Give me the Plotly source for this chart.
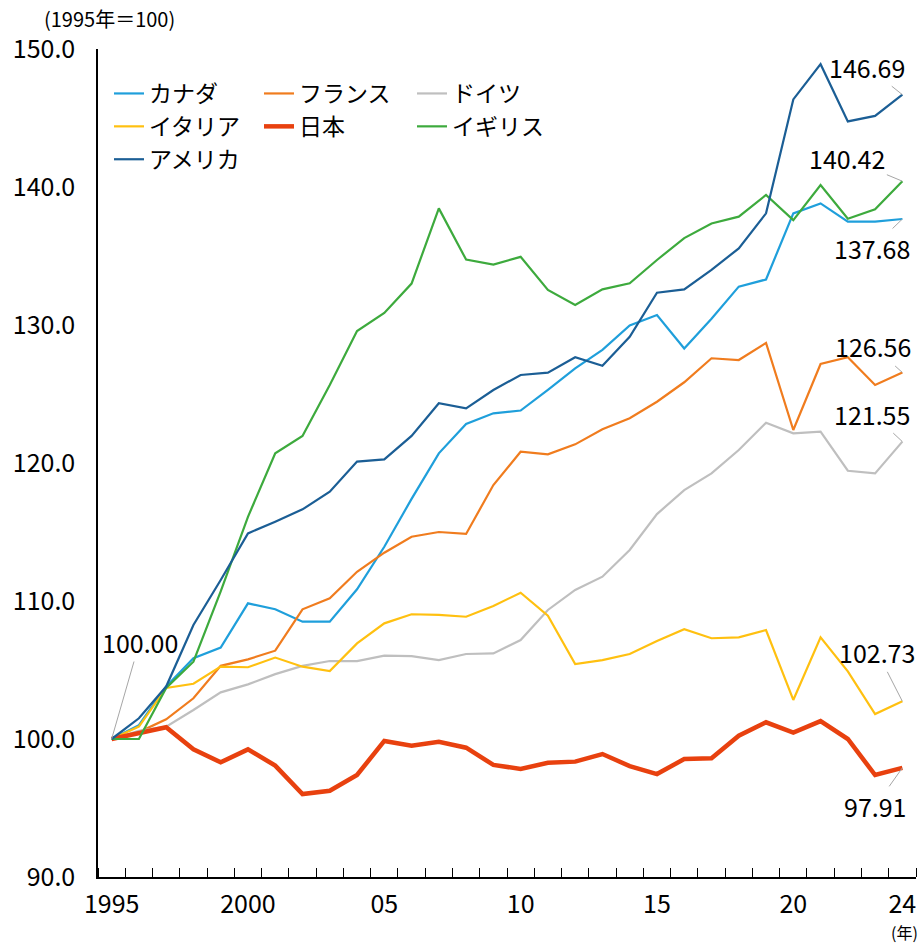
import plotly.graph_objects as go

years = list(range(1995, 2025))

canada = [100.0, 101.0, 103.8, 105.85, 106.62, 109.83, 109.4, 108.5, 108.5, 110.85,
          113.93, 117.4, 120.7, 122.83, 123.6, 123.8, 125.3, 126.86, 128.2, 129.96,
          130.72, 128.3, 130.45, 132.78, 133.3, 138.09, 138.81, 137.49, 137.49, 137.68]
france = [100.0, 100.5, 101.43, 102.95, 105.3, 105.77, 106.4, 109.4, 110.19, 112.12,
          113.5, 114.66, 115.0, 114.86, 118.4, 120.82, 120.63, 121.35, 122.44, 123.24,
          124.44, 125.85, 127.59, 127.46, 128.7, 122.39, 127.17, 127.66, 125.65, 126.56]
germany = [100.0, 100.6, 100.9, 102.1, 103.38, 103.96, 104.7, 105.3, 105.65, 105.65,
           106.04, 106.0, 105.72, 106.16, 106.2, 107.17, 109.35, 110.8, 111.76, 113.7,
           116.3, 118.04, 119.25, 120.94, 122.92, 122.15, 122.27, 119.44, 119.25, 121.55]
italy = [100.0, 100.9, 103.7, 104.0, 105.24, 105.2, 105.9, 105.24, 104.93, 106.93,
         108.38, 109.04, 108.99, 108.86, 109.64, 110.6, 108.93, 105.43, 105.72, 106.16,
         107.1, 107.95, 107.3, 107.37, 107.9, 102.83, 107.37, 104.9, 101.81, 102.73]
japan = [100.0, 100.4, 100.85, 99.25, 98.31, 99.25, 98.07, 96.01, 96.25, 97.39,
         99.86, 99.51, 99.8, 99.37, 98.12, 97.83, 98.28, 98.36, 98.91, 98.04,
         97.46, 98.55, 98.6, 100.24, 101.21, 100.46, 101.3, 100.0, 97.39, 97.91]
uk = [100.0, 100.0, 103.7, 105.6, 110.7, 116.1, 120.7, 121.96, 125.65, 129.56,
      130.87, 133.0, 138.45, 134.74, 134.38, 134.94, 132.54, 131.45, 132.58, 133.02,
      134.71, 136.3, 137.36, 137.85, 139.42, 137.6, 140.14, 137.7, 138.38, 140.42]
usa = [100.0, 101.5, 103.8, 108.26, 111.52, 114.9, 115.75, 116.64, 117.92, 120.1,
       120.26, 121.96, 124.33, 123.96, 125.29, 126.38, 126.55, 127.66, 127.05, 129.15,
       132.34, 132.58, 134.0, 135.55, 138.09, 146.35, 148.9, 144.75, 145.15, 146.69]

x_tickvals = [1995, 2000, 2005, 2010, 2015, 2020, 2024]
x_ticktext = ["1995", "2000", "05", "10", "15", "20", "24"]
y_tickvals = [90, 100, 110, 120, 130, 140, 150]
y_ticktext = ["90.0", "100.0", "110.0", "120.0", "130.0", "140.0", "150.0"]

FONT = "Noto Sans CJK JP"

series = [
    ("カナダ", canada, "#1F9FDB", 2.2, "legend"),
    ("フランス", france, "#F07C1E", 2.2, "legend2"),
    ("ドイツ", germany, "#BFBFBF", 2.2, "legend3"),
    ("イタリア", italy, "#FFC010", 2.2, "legend"),
    ("日本", japan, "#E8410F", 4.5, "legend2"),
    ("イギリス", uk, "#3DAA3D", 2.2, "legend3"),
    ("アメリカ", usa, "#1B5E95", 2.2, "legend"),
]

fig = go.Figure()
for name, vals, color, w, lg in series:
    fig.add_trace(go.Scatter(x=years, y=vals, mode="lines", name=name,
                             line=dict(color=color, width=w), legend=lg))

ann = []
label_specs = [
    (years[-1], usa[-1], -35, -28),
    (years[-1], uk[-1], -55, -23),
    (years[-1], canada[-1], -30, 29),
    (years[-1], france[-1], -29, -26),
    (years[-1], germany[-1], -30, -28),
    (years[-1], italy[-1], -25, -49),
    (years[-1], japan[-1], -27, 38),
    (years[0], japan[0], 28, -97),
]
for xv, yv, ax, ay in label_specs:
    ann.append(dict(x=xv, y=yv, xref="x", yref="y", ax=ax, ay=ay,
                    text=f"{yv:.2f}", showarrow=True, arrowhead=0,
                    arrowwidth=1, arrowcolor="#A6A6A6",
                    font=dict(size=25, color="black", family=FONT)))

ann.append(dict(x=-0.068, y=1.037, xref="paper", yref="paper", xanchor="left",
                yanchor="middle", text="(1995年＝100)", showarrow=False,
                font=dict(size=20, color="black", family=FONT)))
ann.append(dict(x=0.9856, y=-0.066, xref="paper", yref="paper", xanchor="center",
                yanchor="middle", text="(年)", showarrow=False,
                font=dict(size=16, color="black", family=FONT)))

def px_x(p):
    return (p - 98) / (921 - 98 - 5)

def px_y(p):
    return (943 - 66 - p) / (943 - 66 - 49)

leg_common = dict(font=dict(size=23, color="black", family=FONT),
                  bgcolor="rgba(0,0,0,0)", yanchor="top", xanchor="left",
                  orientation="v", traceorder="normal", tracegroupgap=0)

fig.update_layout(
    width=921, height=943,
    margin=dict(l=98, r=5, t=49, b=66),
    plot_bgcolor="white", paper_bgcolor="white",
    font=dict(family=FONT, color="black", size=25),
    legend=dict(x=px_x(109), y=px_y(72), **leg_common),
    legend2=dict(x=px_x(259), y=px_y(72), **leg_common),
    legend3=dict(x=px_x(412), y=px_y(72), **leg_common),
    annotations=ann,
    xaxis=dict(range=[1994.5, 2024.5], tickmode="array", tickvals=x_tickvals,
               ticktext=x_ticktext, ticks="", showline=True, linecolor="black",
               linewidth=1.5, showgrid=False, zeroline=False,
               tickfont=dict(size=25, family=FONT), ticklabelstandoff=4,
               minor=dict(tick0=1994.5, dtick=1, ticks="inside", ticklen=9,
                          tickcolor="black", tickwidth=1, showgrid=False)),
    yaxis=dict(range=[90, 150], tickmode="array", tickvals=y_tickvals,
               ticktext=y_ticktext, ticks="", showline=True, linecolor="black",
               linewidth=1.5, showgrid=False, zeroline=False,
               tickfont=dict(size=25, family=FONT), ticklabelstandoff=16),
)

fig.write_html("out.html", config={"displayModeBar": False},
               post_script="document.body.style.margin='0';document.body.style.overflow='hidden';")
